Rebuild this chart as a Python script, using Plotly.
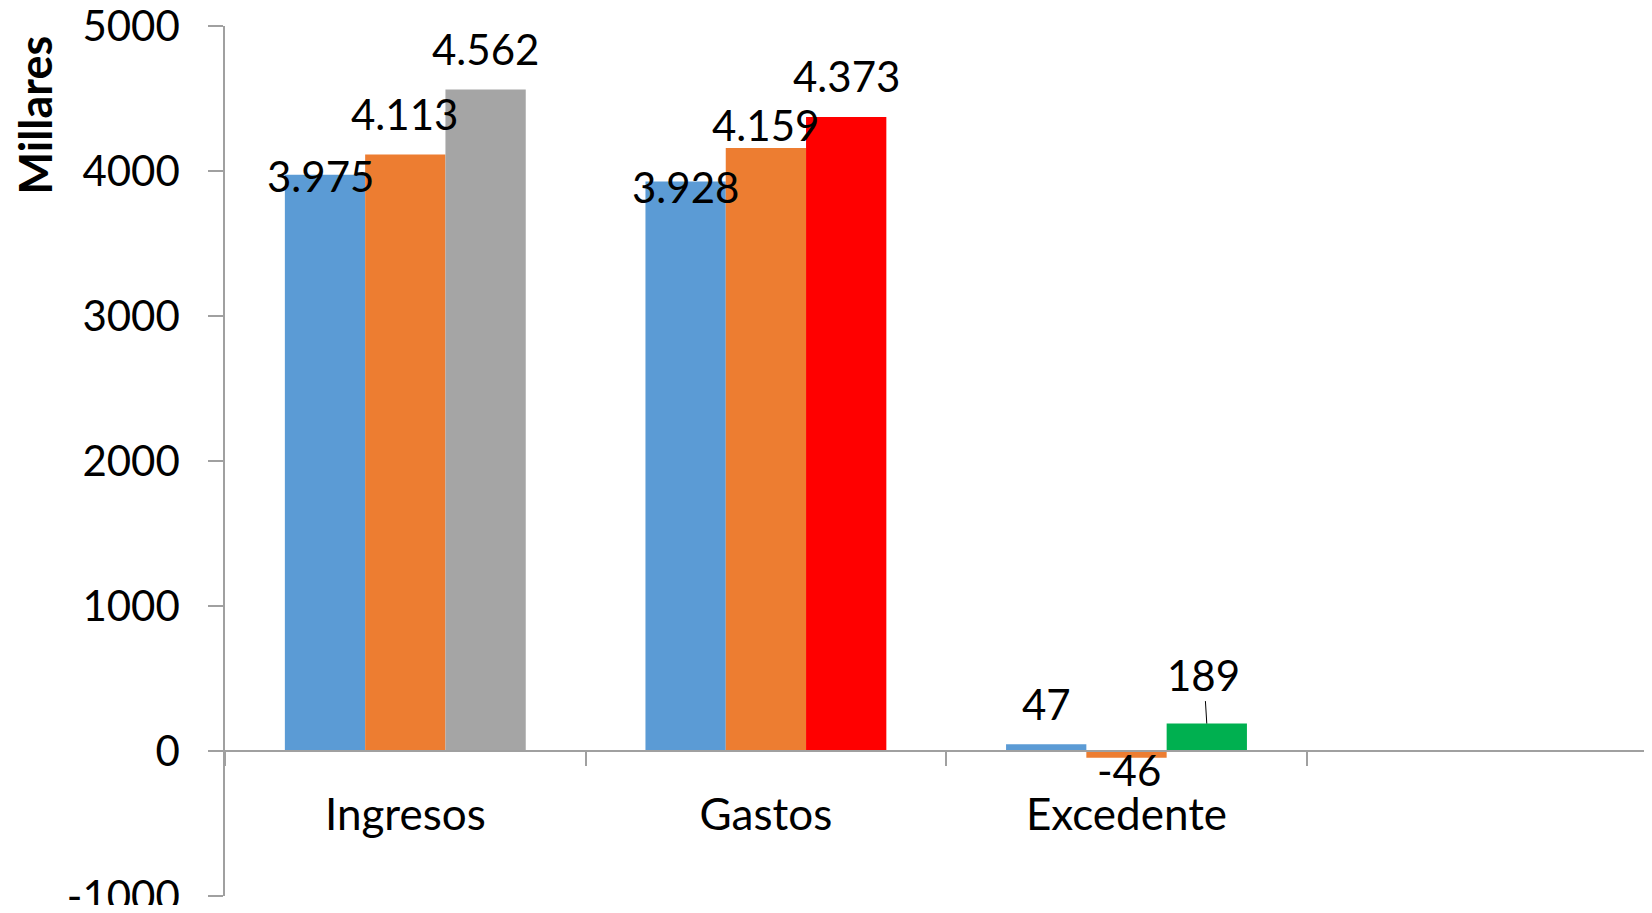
import plotly.graph_objects as go

# ---- data ----
categories = ["Ingresos", "Gastos", "Excedente"]
serie_1 = [3975, 3928, 47]
serie_2 = [4113, 4159, -46]
serie_3 = [4562, 4373, 189]
y_ticks = [-1000, 0, 1000, 2000, 3000, 4000, 5000]
axis_title = "Millares"

# ---- styles ----
color_1 = "#5B9BD5"
color_2 = "#ED7D31"
colors_3 = ["#A5A5A5", "#FF0000", "#00B050"]
FONT = "Lato"
FS = 42
AXIS_GRAY = "#A0A0A0"
BARGAP = 0.332

# label pixel offsets (style): per series, per category
label_dy = [[-1, -6, 40], [41, 23, -12], [41, 41, None]]
label_dx = [[-5, 0, 0], [-1, 0, 2], [0, 0, 0]]

series = [serie_1, serie_2, serie_3]
fills = [color_1, color_2, colors_3]

W, H = 1636, 897
ML, MT, MB, MR = 217, 18, 9, 0
PLOT_W = W - ML - MR
PLOT_H = H - MT - MB

fig = go.Figure()
for vals, col in zip(series, fills):
    fig.add_trace(go.Bar(x=categories, y=vals, marker=dict(color=col, line=dict(width=0)),
                         showlegend=False))

bw = (1 - BARGAP) / len(series)


def fmt(v):
    return f"{v:,}".replace(",", ".")


for s, vals in enumerate(series):
    for c, v in enumerate(vals):
        xpos = c + (s - (len(series) - 1) / 2) * bw
        if label_dy[s][c] is None:
            fig.add_annotation(x=xpos, y=v, xref="x", yref="y", text=fmt(v),
                               showarrow=True, arrowhead=0, arrowwidth=1, arrowcolor="black",
                               ax=-3, ay=-49, standoff=0,
                               font=dict(family=FONT, size=FS, color="black"))
        else:
            fig.add_annotation(x=xpos, y=v, xref="x", yref="y", text=fmt(v),
                               showarrow=False, xanchor="center", yanchor="middle",
                               xshift=label_dx[s][c], yshift=label_dy[s][c],
                               font=dict(family=FONT, size=FS, color="black"))

fig.add_annotation(x=(26.5 - ML) / PLOT_W, y=(PLOT_H - (115 - 8 - MT)) / PLOT_H,
                   xref="paper", yref="paper",
                   text=f"<b>{axis_title}</b>", textangle=-90, showarrow=False,
                   xanchor="center", yanchor="middle",
                   font=dict(family=FONT, size=45, color="black"))

cat_px = 360.6
fig.update_layout(
    width=W, height=H,
    margin=dict(l=ML, r=MR, t=MT, b=MB, pad=0, autoexpand=False),
    paper_bgcolor="white", plot_bgcolor="white",
    barmode="group", bargap=BARGAP, bargroupgap=0,
    font=dict(family=FONT, size=FS, color="black"),
    xaxis=dict(
        type="category", range=[-0.5, -0.5 + PLOT_W / cat_px], anchor="free", position=1 / 6,
        showline=True, linecolor=AXIS_GRAY, linewidth=1.5, automargin=False,
        ticks="outside", tickson="boundaries", ticklen=14, tickcolor=AXIS_GRAY, tickwidth=1.5,
        showgrid=False, zeroline=False, ticklabelstandoff=25, ticklabeloverflow="allow",
        tickfont=dict(family=FONT, size=44, color="black"),
    ),
    yaxis=dict(
        range=[-1000, 5000], tickvals=y_ticks, ticktext=[str(t) for t in y_ticks],
        showline=True, linecolor=AXIS_GRAY, linewidth=1.5, automargin=False,
        ticks="outside", ticklen=15, tickcolor=AXIS_GRAY, tickwidth=1.5,
        showgrid=False, zeroline=False, ticklabelstandoff=20, ticklabeloverflow="allow",
        tickfont=dict(family=FONT, size=FS, color="black"),
    ),
)

fig.write_html("out.html")
